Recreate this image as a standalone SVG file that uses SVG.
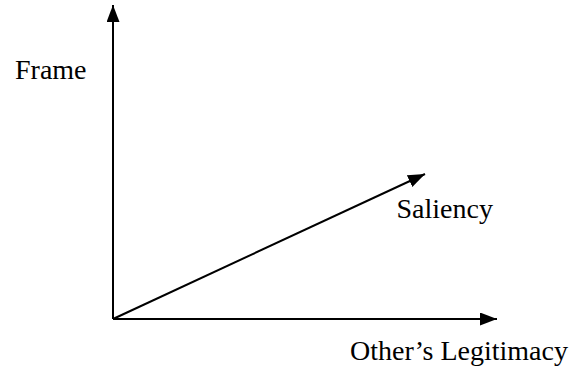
<svg xmlns="http://www.w3.org/2000/svg" width="576" height="367" viewBox="0 0 576 367">
<style>
.ax{stroke:#000;stroke-width:2;fill:none}
.lbl{font-family:"Liberation Serif","Times New Roman",serif;font-size:28px;fill:#000}
</style>
<defs>
<marker id="ah" markerUnits="userSpaceOnUse" markerWidth="18" markerHeight="14" refX="17" refY="6.5" orient="auto">
<path d="M0,0 L17,6.5 L0,13 z" fill="#000"/>
</marker>
</defs>
<rect width="576" height="367" fill="#fff"/>
<g id="connectors">
<line class="ax" x1="113" y1="319" x2="113" y2="5" marker-end="url(#ah)"/>
<line class="ax" x1="113" y1="319" x2="497" y2="319" marker-end="url(#ah)"/>
<line class="ax" x1="113" y1="319" x2="425" y2="174" marker-end="url(#ah)"/>
</g>
<g id="frame"><text class="lbl" x="15" y="79">Frame</text></g>
<g id="saliency"><text class="lbl" x="396.5" y="218">Saliency</text></g>
<g id="legitimacy"><text class="lbl" x="350" y="360">Other’s Legitimacy</text></g>
</svg>
